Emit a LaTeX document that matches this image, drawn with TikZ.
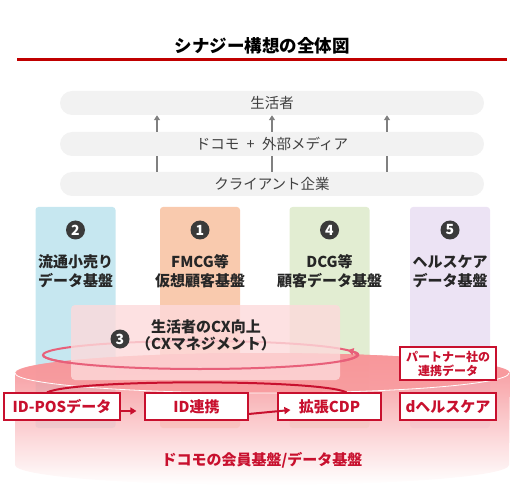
\documentclass[tikz,border=0pt]{standalone}
\usepackage{fontspec}
\setmainfont{Noto Sans CJK JP}
\usetikzlibrary{arrows.meta}

\definecolor{barg}{HTML}{F2F2F2}
\definecolor{bart}{HTML}{404040}
\definecolor{arrg}{HTML}{808080}
\definecolor{colb}{HTML}{C6E7F0}
\definecolor{colo}{HTML}{F9CAAE}
\definecolor{colg}{HTML}{E2EDD2}
\definecolor{colv}{HTML}{ECE3F4}
\definecolor{numg}{HTML}{3A3A3A}
\definecolor{labt}{HTML}{262626}
\definecolor{titler}{HTML}{C00000}
\definecolor{dred}{HTML}{C8102E}
\definecolor{cylr}{HTML}{F4777D}
\definecolor{cyltop}{HTML}{F9999C}
\definecolor{cxp}{HTML}{FDDADB}
\definecolor{loopr}{HTML}{E8607A}

\begin{document}
\begin{tikzpicture}[x=1pt, y=-1pt,
	bar/.style={rounded corners=12pt, fill=barg, minimum width=424pt, minimum height=24pt, text=bart, font=\fontsize{14.5}{16}\selectfont},
	col/.style={rounded corners=3pt, minimum width=80pt, minimum height=221pt},
	num/.style={circle, fill=numg, text=white, inner sep=0pt, minimum size=19pt, font=\fontsize{14}{14}\selectfont\bfseries},
	lab/.style={align=center, text=labt, font=\fontsize{15}{19}\selectfont\bfseries},
	box/.style={draw=dred, line width=1.2pt, fill=white, text=dred, inner sep=0pt, minimum height=27pt, font=\fontsize{15}{16}\selectfont\bfseries},
	up/.style={draw=arrg, line width=1.5pt, -{Triangle[length=5pt, width=6pt]}},
	link/.style={draw=dred, line width=2pt, -{Triangle[length=6pt, width=7pt]}},
	loop/.style={draw=loopr, line width=2pt}]
	\useasboundingbox (0,0) rectangle (529,502);

	% title
	\node (title)[font=\fontsize{17.5}{18}\selectfont\bfseries] at (262,46){シナジー構想の全体図};
	\draw[titler, line width=3pt] (17,60) -- (507,60);

	% layers
	\node (seikatsu)[bar] at (272,103){生活者};
	\node (media)[bar] at (272,144){ドコモ\enspace+\enspace{}外部メディア};
	\node (client)[bar] at (272,184){クライアント企業};
	\foreach \dx in {-115,0,115}{
		\draw[up, -] ([xshift=\dx pt]client.north) -- ([xshift=\dx pt]media.south);
		\draw[up] ([xshift=\dx pt]media.north) -- ([xshift=\dx pt]seikatsu.south);
	}

	% columns
	\node (c2)[col, fill=colb] at (75.5,317.5){};
	\node (c1)[col, fill=colo] at (200,317.5){};
	\node (c4)[col, fill=colg] at (329.5,317.5){};
	\node (c5)[col, fill=colv] at (450,317.5){};

	\node (n2)[num] at (75.5,230){2};
	\node (n1)[num] at (200,230){1};
	\node (n4)[num] at (329.5,230){4};
	\node (n5)[num] at (450,230){5};

	\node (l2)[lab] at (75.5,271){流通小売り\\データ基盤};
	\node (l1)[lab] at (200,271){FMCG等\\仮想顧客基盤};
	\node (l4)[lab] at (329.5,271){DCG等\\顧客データ基盤};
	\node (l5)[lab] at (450,271){ヘルスケア\\データ基盤};

	% cylinder
	\shade[top color=cylr, middle color=cylr!70!white, bottom color=white, fill opacity=.8]
		(15,373) -- (15,465) arc[start angle=180, end angle=0, x radius=247, y radius=20]
		-- (510,373) arc[start angle=0, end angle=-180, x radius=247, y radius=20] -- cycle;
	\fill[cyltop, fill opacity=.8] (262,373) ellipse[x radius=247, y radius=20];
	\draw[white, line width=.8pt] (15,373) arc[start angle=180, end angle=0, x radius=247, y radius=20];

	% CX loop
	\draw[loop] (200,355) ellipse[x radius=157, y radius=14];
	\node (cx)[rounded corners=4pt, fill=cxp, fill opacity=.8, minimum width=269pt, minimum height=75pt] at (205.5,342.5){};
	\draw[loop, -{Triangle[length=6pt, width=7pt]}] (43,355) arc[start angle=180, end angle=-20, x radius=157, y radius=14];
	\node (n3)[num] at (120,339){3};
	\node (cxt)[lab, font=\fontsize{15}{17}\selectfont\bfseries] at (206,335){生活者のCX向上\\（CXマネジメント）};

	% data boxes
	\node (idpos)[box, minimum width=116pt] at (62,406.5){ID-POSデータ};
	\node (idlink)[box, minimum width=103pt] at (196.5,406.5){ID連携};
	\node (cdp)[box, minimum width=103pt] at (329.5,406.5){拡張CDP};
	\node (dhc)[box, minimum width=96pt] at (448,406.5){dヘルスケア};
	\node (partner)[box, minimum width=96pt, minimum height=33pt, align=center, font=\fontsize{12}{14}\selectfont\bfseries] at (448,363.5){パートナー社の\\連携データ};

	\draw[dred, line width=2pt] ([xshift=-15pt]idpos.north) .. controls (75,379) and (320,379) .. ([xshift=17pt]cdp.north);
	\draw[link, shorten >=8pt] ([yshift=-4.5pt]idpos.east) -- ([yshift=-4.5pt]idlink.west);
	\draw[link] ([yshift=-7.5pt]idlink.east) -- ([xshift=13pt, yshift=-3.5pt]cdp.west);

	\node (base)[text=dred, font=\fontsize{15}{16}\selectfont\bfseries] at (262,460){ドコモの会員基盤/データ基盤};
\end{tikzpicture}
\end{document}
